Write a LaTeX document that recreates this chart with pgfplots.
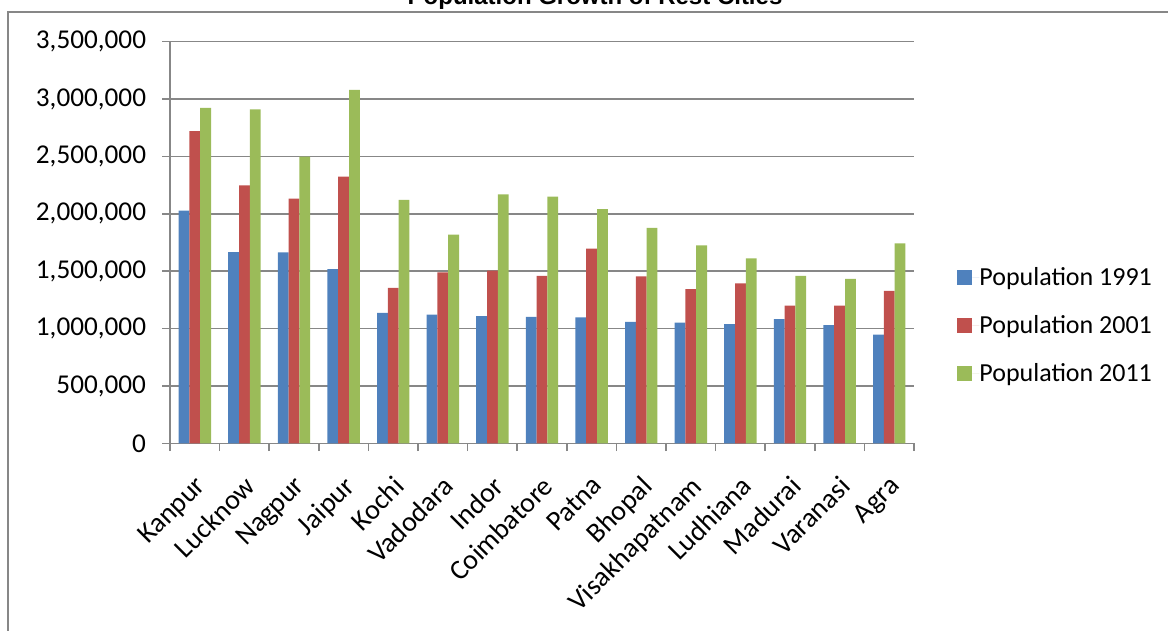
\documentclass[border=0pt]{standalone}
\usepackage{fontspec}
\setmainfont{Carlito}
\newfontfamily\titlefont{Liberation Sans}
\usepackage{pgfplots}
\pgfplotsset{compat=1.18}
\definecolor{c91}{HTML}{4F81BD}
\definecolor{c01}{HTML}{C0504D}
\definecolor{c11}{HTML}{9BBB59}
\definecolor{gridc}{HTML}{878787}
\begin{document}
\begin{tikzpicture}
\useasboundingbox (0pt,0pt) rectangle (584pt,315.5pt);
% chart frame (cropped)
\draw[gridc, line width=1.1pt] (4pt,-10pt) -- (4pt,309.5pt) -- (620pt,309.5pt);
\node[anchor=base, font=\titlefont\bfseries\fontsize{12}{14}\selectfont] at (297.5pt,313pt) {Population Growth of Rest Cities};
\begin{axis}[
  at={(85pt,93.75pt)}, anchor=south west,
  scale only axis, width=372pt, height=201pt,
  xmin=-0.5, xmax=14.5, ymin=0, ymax=3500000,
  ybar=0pt, bar width=5.4pt,
  axis lines*=left,
  axis line style={gridc, line width=0.75pt},
  tick align=outside,
  major tick length=3.8pt,
  tick style={gridc, line width=0.75pt},
  xtick={-0.5,0.5,...,14.5},
  xticklabels={Kanpur,Lucknow,Nagpur,Jaipur,Kochi,Vadodara,Indor,Coimbatore,Patna,Bhopal,Visakhapatnam,Ludhiana,Madurai,Varanasi,Agra,{}},
  xticklabel style={inner sep=0pt, xshift=11.8pt, yshift=-11.5pt, rotate=45, anchor=north east, font=\fontsize{14}{16}\selectfont},
  ytick={0,500000,...,3500000},
  scaled y ticks=false,
  yticklabel style={inner sep=0pt, xshift=-8pt, font=\fontsize{13.6}{15}\selectfont},
  /pgf/number format/.cd, fixed, 1000 sep={,}, assume math mode=true,
  /pgfplots/.cd,
  ymajorgrids,
  grid style={gridc, line width=0.75pt},
  legend style={at={(1,0.293)}, anchor=west, xshift=21.5pt, draw=none, fill=none,
    inner sep=0pt, font=\fontsize{13}{15}\selectfont, row sep=12pt,
    nodes={inner sep=0pt, text height=10pt, text depth=2pt}},
  legend cell align=left,
  legend image code/.code={\fill[#1] (0pt,-3.75pt) rectangle (7.5pt,3.75pt); \path (7.5pt,0) -- (11pt,0);},
]
\addplot[fill=c91, draw=none] coordinates {
(0,2027000) (1,1667000) (2,1664000) (3,1518000) (4,1137000) (5,1122000) (6,1108000) (7,1103000)
(8,1097000) (9,1059000) (10,1053000) (11,1039000) (12,1083000) (13,1030000) (14,947000)};
\addplot[fill=c01, draw=none] coordinates {
(0,2719000) (1,2248000) (2,2132000) (3,2324000) (4,1355000) (5,1489000) (6,1506000) (7,1460000)
(8,1696000) (9,1456000) (10,1343000) (11,1395000) (12,1201000) (13,1201000) (14,1329000)};
\addplot[fill=c11, draw=none] coordinates {
(0,2923000) (1,2908000) (2,2498000) (3,3078000) (4,2120000) (5,1818000) (6,2170000) (7,2150000)
(8,2041000) (9,1878000) (10,1725000) (11,1612000) (12,1459000) (13,1433000) (14,1743000)};
\legend{Population 1991, Population 2001, Population 2011}
\end{axis}
\end{tikzpicture}
\end{document}
